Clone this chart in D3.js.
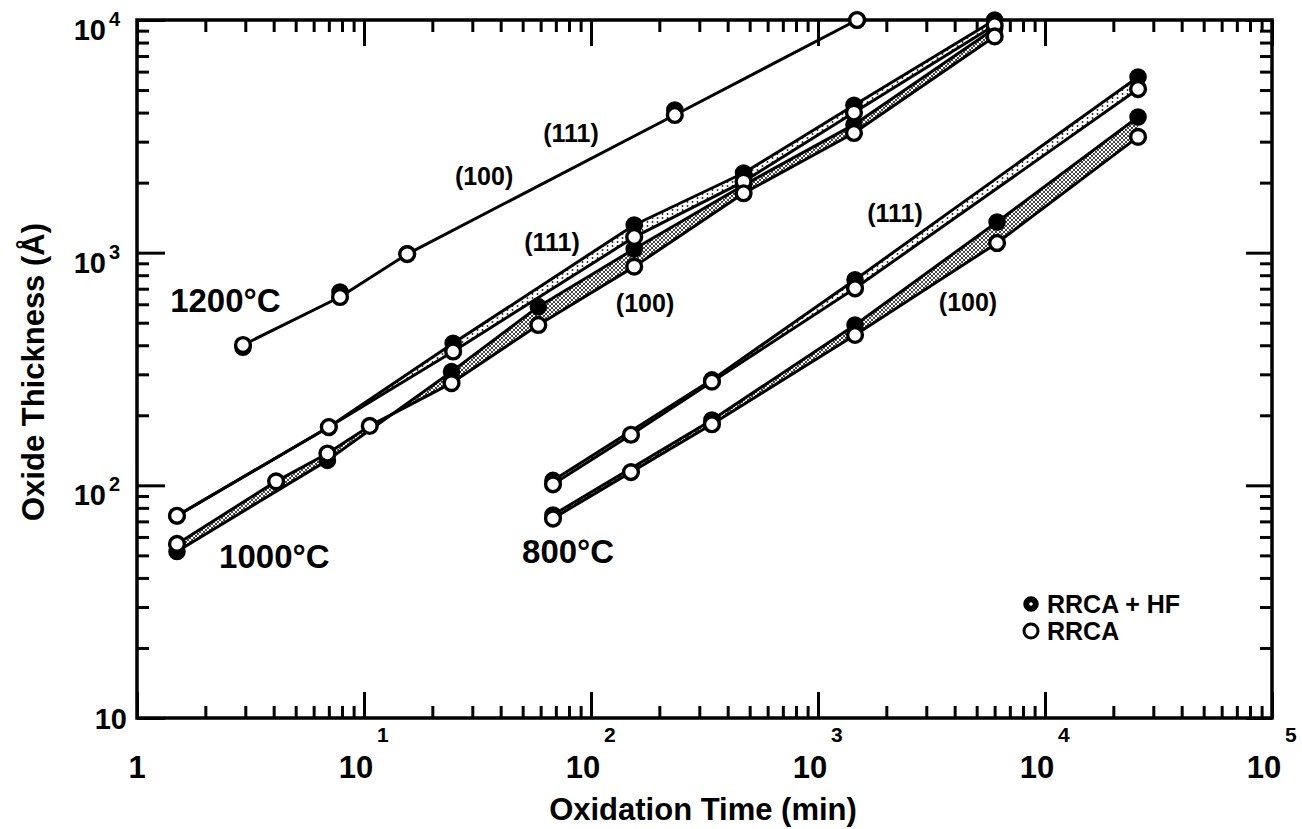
<!DOCTYPE html>
<html><head><meta charset="utf-8">
<script src="https://cdn.jsdelivr.net/npm/d3@7"></script>
<style>
body{margin:0;background:#fff;}
text{font-family:"Liberation Sans",Arial,sans-serif;font-weight:bold;fill:#000;}
</style>
</head><body>
<svg id="c" width="1302" height="829"></svg>
<script>
// ---------- data (time in min, thickness in Å) ----------
const t1200 = [2.93, 7.84, 15.5, 234, 1486];
const v1200HF = [392, 678, 990, 4105, 10000];
const v1200RRCA = [401, 645, 986, 3905, 10000];

const t1000_111 = [1.5, 7, 24.7, 155, 470, 1440, 6000];
const v1000_111HF = [74, 178, 408, 1315, 2200, 4300, 10000];
const v1000_111RRCA = [74, 178, 376, 1167, 2020, 4000, 9500];

const t1000_100HF = [1.5, 6.9, 24.3, 58.6, 155, 470, 1440, 6000];
const v1000_100HF = [52, 128, 308, 586, 1037, 1950, 3550, 9200];
const t1000_100RRCA = [1.5, 4.1, 6.9, 10.6, 24.3, 58.6, 155, 470, 1440, 6000];
const v1000_100RRCA = [56, 104, 137, 180, 275, 489, 871, 1800, 3270, 8500];

const t800_111HF = [68, 341, 1456, 25700];
const v800_111HF = [105, 284, 765, 5690];
const t800_111RRCA = [68, 150, 341, 1456, 25700];
const v800_111RRCA = [101, 165, 279, 703, 5050];
const t800_100HF = [68, 341, 1456, 6150, 25700];
const v800_100HF = [74.6, 191, 489, 1355, 3830];
const t800_100RRCA = [68, 150, 341, 1456, 6150, 25700];
const v800_100RRCA = [72, 114, 183, 443, 1101, 3145];

const xMajor = [1, 10, 100, 1000, 10000, 100000];
const xTickLabels = [["1",""],["10","1"],["10","2"],["10","3"],["10","4"],["10","5"]];
const yMajor = [10, 100, 1000, 10000];
const yTickLabels = [["10",""],["10","2"],["10","3"],["10","4"]];

// label anchors in data coordinates [text, time, thickness]
const tempLabels = [["1200°C",1.40,556],["1000°C",2.30,44.2],["800°C",49.7,46.4]];
const orientLabels = [["(100)",33.8,1954],["(111)",81.6,2990],["(111)",67.3,1017],["(100)",173,556],["(111)",2183,1355],["(100)",4580,562]];
const legendItems = ["RRCA + HF","RRCA"];
const xTitle = "Oxidation Time (min)";
const yTitle = "Oxide Thickness (Å)";

// ---------- layout ----------
const L = 137, R = 1272, T = 20, B = 718;
const svg = d3.select("#c");
const x = d3.scaleLog().domain([1, 1e5]).range([L, R]);
const y = d3.scaleLog().domain([10, 1e4]).range([B, T]);

const defs = svg.append("defs");
const ph = defs.append("pattern").attr("id","hatch").attr("width",4).attr("height",4).attr("patternUnits","userSpaceOnUse");
ph.append("rect").attr("width",4).attr("height",4).attr("fill","#fff");
ph.append("path").attr("d","M0,0L4,4M4,0L0,4").attr("stroke","#333").attr("stroke-width",0.9);
const pd = defs.append("pattern").attr("id","dots").attr("width",5).attr("height",4).attr("patternUnits","userSpaceOnUse");
pd.append("rect").attr("width",5).attr("height",4).attr("fill","#fff");
pd.append("circle").attr("cx",2.5).attr("cy",2).attr("r",0.9).attr("fill","#222");

// ---------- axes ----------
const isMajor = d => Math.abs(Math.log10(d) - Math.round(Math.log10(d))) < 1e-9;
const xMinor = x.ticks().filter(d => !isMajor(d));
const yMinor = y.ticks().filter(d => !isMajor(d));
function ax(gen, vals, size, tr) {
  const g = svg.append("g").attr("transform", tr)
    .call(gen.tickValues(vals).tickSize(size).tickFormat(""));
  g.select(".domain").remove();
  g.selectAll("line").attr("stroke","#000").attr("stroke-width",3);
}
ax(d3.axisBottom(x), xMinor, -12, `translate(0,${B})`);
ax(d3.axisBottom(x), xMajor, -26, `translate(0,${B})`);
ax(d3.axisTop(x), xMinor, -12, `translate(0,${T})`);
ax(d3.axisTop(x), xMajor, -26, `translate(0,${T})`);
ax(d3.axisLeft(y), yMinor, -12, `translate(${L},0)`);
ax(d3.axisLeft(y), yMajor, -28, `translate(${L},0)`);
ax(d3.axisRight(y), yMinor, -12, `translate(${R},0)`);
ax(d3.axisRight(y), yMajor, -26, `translate(${R},0)`);
svg.append("rect").attr("x",L).attr("y",T).attr("width",R-L).attr("height",B-T)
  .attr("fill","none").attr("stroke","#000").attr("stroke-width",3.5);

// tick labels
xMajor.forEach((d,i) => {
  const [base, sup] = xTickLabels[i];
  const cx = x(d) - (sup ? 8 : 0);
  svg.append("text").attr("x",cx).attr("y",778).attr("text-anchor","middle")
    .attr("font-size",31).text(base);
  if (sup) svg.append("text").attr("x",cx+21).attr("y",742).attr("font-size",21).text(sup);
});
yMajor.forEach((d,i) => {
  const [base, sup] = yTickLabels[i];
  if (sup) {
    svg.append("text").attr("x",106).attr("y",y(d)+20).attr("text-anchor","end")
      .attr("font-size",29).text(base);
    svg.append("text").attr("x",109).attr("y",y(d)+6).attr("font-size",20).text(sup);
  } else {
    svg.append("text").attr("x",127).attr("y",y(d)+11).attr("text-anchor","end")
      .attr("font-size",29).text(base);
  }
});
svg.append("text").attr("x",703).attr("y",820).attr("text-anchor","middle").attr("font-size",31).text(xTitle);
svg.append("text").attr("transform","translate(44,372) rotate(-90)").attr("text-anchor","middle").attr("font-size",31).text(yTitle);

// ---------- series ----------
const line = d3.line().x(d => x(d[0])).y(d => y(d[1]));
const pts = (t, v) => t.map((d,i) => [d, v[i]]);

const groups = [
  {hf: pts(t1200, v1200HF), rr: pts(t1200, v1200RRCA), fill: "none", single: true},
  {hf: pts(t1000_111, v1000_111HF), rr: pts(t1000_111, v1000_111RRCA), fill: "url(#dots)"},
  {hf: pts(t1000_100HF, v1000_100HF), rr: pts(t1000_100RRCA, v1000_100RRCA), fill: "url(#hatch)"},
  {hf: pts(t800_111HF, v800_111HF), rr: pts(t800_111RRCA, v800_111RRCA), fill: "url(#dots)"},
  {hf: pts(t800_100HF, v800_100HF), rr: pts(t800_100RRCA, v800_100RRCA), fill: "url(#hatch)"}
];
groups.forEach(g => {
  if (g.single) return;
  svg.append("path").attr("d", line(g.hf.concat(g.rr.slice().reverse())) + "Z")
    .attr("fill", g.fill).attr("stroke","none");
});
groups.forEach(g => {
  const sets = g.single ? [g.rr] : [g.hf, g.rr];
  sets.forEach(s => svg.append("path").attr("d", line(s))
    .attr("fill","none").attr("stroke","#000").attr("stroke-width", 3).attr("stroke-linejoin","round"));
});
groups.forEach(g => {
  svg.append("g").selectAll("circle").data(g.hf).join("circle")
    .attr("cx", d => x(d[0])).attr("cy", d => y(d[1])).attr("r",7.8)
    .attr("fill","#000").attr("stroke","#000").attr("stroke-width",2);
});
groups.forEach(g => {
  svg.append("g").selectAll("circle").data(g.rr).join("circle")
    .attr("cx", d => x(d[0])).attr("cy", d => y(d[1])).attr("r",7.4)
    .attr("fill","#fff").attr("stroke","#000").attr("stroke-width",3.4);
});

// ---------- labels ----------
tempLabels.forEach(([s, t, v]) => {
  svg.append("text").attr("x", x(t)).attr("y", y(v)).attr("font-size",33).text(s);
});
orientLabels.forEach(([s, t, v]) => {
  svg.append("text").attr("x", x(t)).attr("y", y(v)).attr("text-anchor","middle").attr("font-size",25).text(s);
});

// ---------- legend ----------
const lg = svg.append("g").attr("transform","translate(1031,604)");
lg.append("circle").attr("cx",0).attr("cy",0).attr("r",6.5).attr("fill","#000").attr("stroke","#000").attr("stroke-width",2.5);
lg.append("circle").attr("cx",0).attr("cy",0).attr("r",1.8).attr("fill","#fff");
lg.append("circle").attr("cx",0).attr("cy",27).attr("r",7).attr("fill","#fff").attr("stroke","#000").attr("stroke-width",3);
legendItems.forEach((s,i) => lg.append("text").attr("x",16).attr("y",9 + i*27).attr("font-size",25).text(s));
</script>
</body></html>
